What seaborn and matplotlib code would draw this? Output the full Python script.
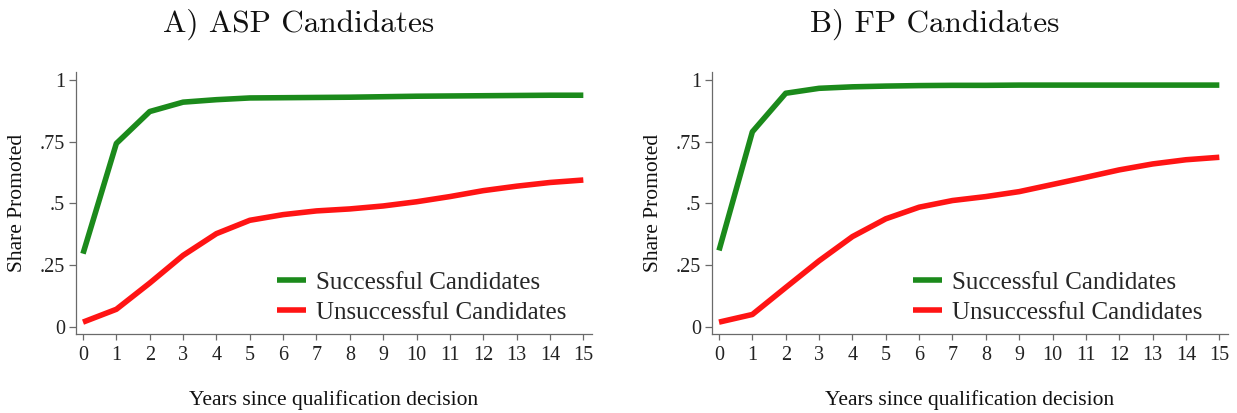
import numpy as np
import pandas as pd
import matplotlib
matplotlib.use("Agg")
import matplotlib.pyplot as plt
import seaborn as sns

years = list(range(16))
asp_successful = [0.297, 0.743, 0.872, 0.910, 0.920, 0.927, 0.928, 0.929, 0.930, 0.932, 0.934, 0.935, 0.936, 0.937, 0.938, 0.938]
asp_unsuccessful = [0.020, 0.072, 0.178, 0.290, 0.378, 0.432, 0.455, 0.470, 0.478, 0.490, 0.507, 0.528, 0.552, 0.570, 0.585, 0.595]
fp_successful = [0.310, 0.790, 0.946, 0.966, 0.972, 0.975, 0.977, 0.978, 0.978, 0.979, 0.979, 0.979, 0.979, 0.979, 0.979, 0.979]
fp_unsuccessful = [0.020, 0.051, 0.160, 0.268, 0.366, 0.438, 0.485, 0.512, 0.528, 0.548, 0.577, 0.606, 0.636, 0.660, 0.677, 0.687]

titles = ["A) ASP Candidates", "B) FP Candidates"]
series_names = ["Successful Candidates", "Unsuccessful Candidates"]
y_ticks = [0, 0.25, 0.5, 0.75, 1]
y_tick_labels = ["0", ".25", ".5", ".75", "1"]
x_label = "Years since qualification decision"
y_label = "Share Promoted"

sns.set_style("ticks")
plt.rcParams["font.family"] = ["Liberation Serif", "DejaVu Serif"]

def long_frame(succ, unsucc):
    return pd.DataFrame({
        "year": years * 2,
        "share": succ + unsucc,
        "group": [series_names[0]] * len(years) + [series_names[1]] * len(years),
    })

panels = [long_frame(asp_successful, asp_unsuccessful),
          long_frame(fp_successful, fp_unsuccessful)]

W, H = 1237, 413
fig = plt.figure(figsize=(W / 100, H / 100), dpi=100)
fig.patch.set_facecolor("white")

axes_px = [(76, 72, 592, 334), (712, 72, 1228, 334)]
palette = {series_names[0]: "#1b8a1b", series_names[1]: "#ff1414"}
spine_col = "#6a6a6a"

for (l, t, r, b), df, title, tx in zip(axes_px, panels, titles, [299, 935]):
    ax = fig.add_axes([l / W, 1 - b / H, (r - l) / W, (b - t) / H])
    sns.lineplot(data=df, x="year", y="share", hue="group", palette=palette,
                 hue_order=series_names, linewidth=4.0, ax=ax, legend=True,
                 solid_capstyle="butt")
    ax.set_xlim(-0.21, 15.26)
    ax.set_ylim(-0.028, 1.032)
    ax.set_xticks(years)
    ax.set_xticklabels([str(y) for y in years])
    ax.set_yticks(y_ticks)
    ax.set_yticklabels(y_tick_labels)
    ax.tick_params(axis="both", labelsize=14.5, colors="#222222", direction="out",
                   width=0.9, color=spine_col)
    ax.tick_params(axis="x", length=4, pad=5)
    ax.tick_params(axis="y", length=5, pad=3)
    for s in ["top", "right"]:
        ax.spines[s].set_visible(False)
    for s in ["left", "bottom"]:
        ax.spines[s].set_color(spine_col)
        ax.spines[s].set_linewidth(0.9)
    ax.set_xlabel(x_label, fontsize=15.5, color="#111111", labelpad=18)
    ax.set_ylabel(y_label, fontsize=15.5, color="#111111", labelpad=9)
    leg = ax.legend(loc="center left", bbox_to_anchor=(0.39, 0.138), frameon=False,
                    fontsize=18, handlelength=1.15, handletextpad=0.4,
                    labelspacing=0.3, borderpad=0, borderaxespad=0)
    for line in leg.get_lines():
        line.set_linewidth(4.0)
    fig.text(tx / W, 1 - 24 / H, title, ha="center", va="center",
             fontsize=22.5, family=["cmr10", "DejaVu Serif"], color="#111111")

fig.savefig("out.png", dpi=100, facecolor="white")
